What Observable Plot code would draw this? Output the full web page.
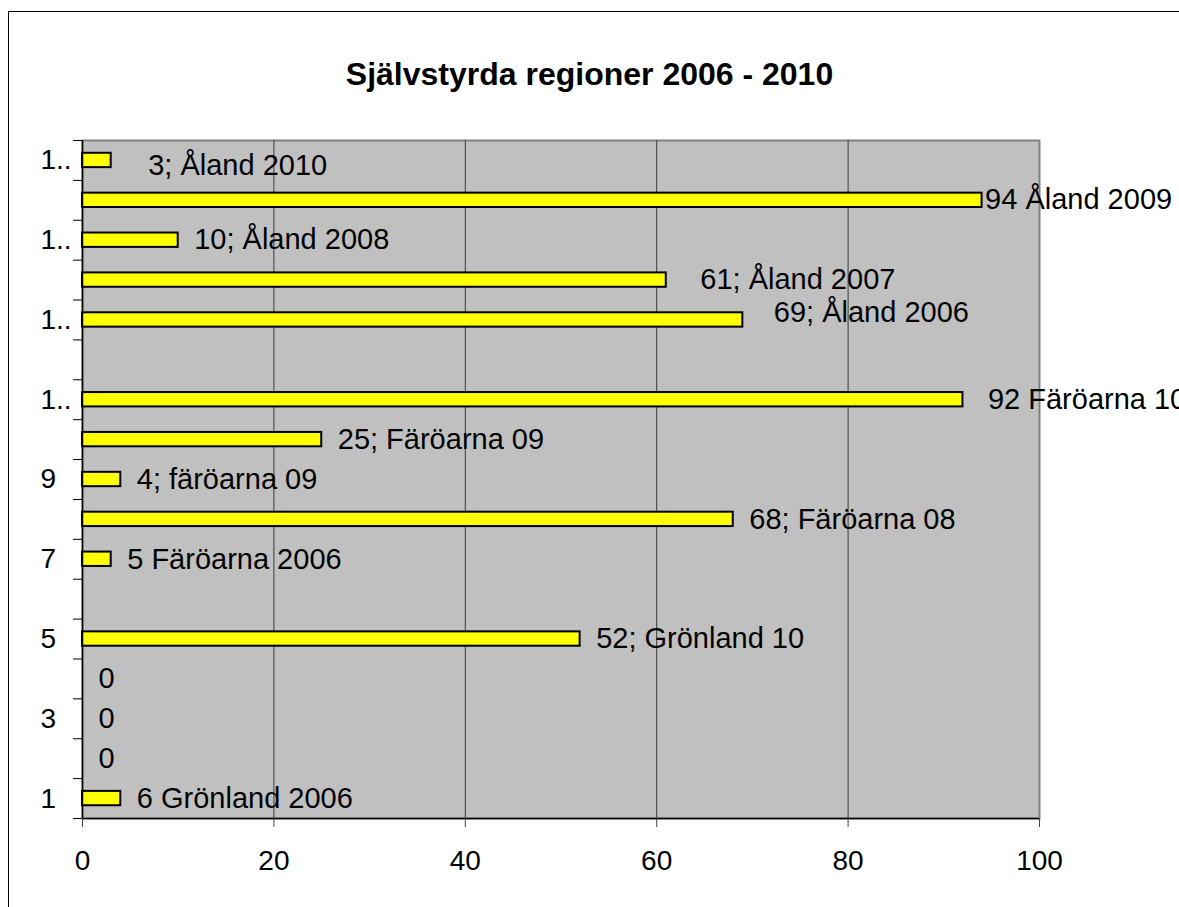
<!DOCTYPE html>
<html>
<head>
<meta charset="utf-8">
<script src="https://cdn.jsdelivr.net/npm/d3@7"></script>
<script src="https://cdn.jsdelivr.net/npm/@observablehq/plot@0.6"></script>
<style>
  body { margin: 0; background: #fff; overflow: hidden; }
  #wrap { position: relative; width: 1179px; height: 907px; overflow: hidden; }
  #frame { position: absolute; left: 8px; top: 11px; width: 1300px; height: 1000px;
           border-left: 1.5px solid #000; border-top: 1.5px solid #000; }
  #chart { position: absolute; left: 0; top: 0; }
  #title { position: absolute; left: 0; top: 58px; width: 1179px; text-align: center;
           font: bold 32px/32px "Liberation Sans", Arial, sans-serif; color: #000; }
</style>
</head>
<body>
<div id="wrap">
  <div id="frame"></div>
  <div id="chart"></div>
  <div id="title">Självstyrda regioner 2006 - 2010</div>
</div>
<script>
// ---- data ----
const categories = [1, 2, 3, 4, 5, 6, 7, 8, 9, 10, 11, 12, 13, 14, 15, 16, 17];
const values = [4, 0, 0, 0, 52, null, 3, 68, 4, 25, 92, null, 69, 61, 10, 94, 3];
const labels = [
  "6 Grönland 2006", "0", "0", "0", "52; Grönland 10", null,
  "5 Färöarna 2006", "68; Färöarna 08", "4; färöarna 09", "25; Färöarna 09",
  "92 Färöarna 10", null, "69; Åland 2006", "61; Åland 2007",
  "10; Åland 2008", "94 Åland 2009", "3; Åland 2010"
];
// manual label nudges (px), as placed in the original chart
const labelNudgeX = [0, 0, 0, 0, 0, 0, 0, 0, 0, 0, 9, 0, 15, 18, 0, -13, 21];
const labelNudgeY = [0, 0, 0, 0, 0, 0, 0, 0, 0, 0, 0, 0, -7, 0, 0, -1, 5];
const xTicks = [0, 20, 40, 60, 80, 100];
const yTickValues = [1, 3, 5, 7, 9, 11, 13, 15, 17];
const yTickLabels = ["1", "3", "5", "7", "9", "1..", "1..", "1..", "1.."];

const data = categories.map((c, i) => ({
  cat: c, value: values[i], label: labels[i], nx: labelNudgeX[i], ny: labelNudgeY[i]
}));
const boundaries = [0, ...categories].map(c => c + 0.5);
const barHalf = 0.18;
const font = '"Liberation Sans", Arial, sans-serif';

const labelMarks = data.filter(d => d.label != null).map(d =>
  Plot.text([d], {
    x: d => d.value ?? 0, y: "cat", text: "label",
    textAnchor: "start", dx: 16 + d.nx, dy: d.ny,
    fontSize: 29, fill: "#000"
  })
);

const plot = Plot.plot({
  width: 1179,
  height: 907,
  marginLeft: 82,
  marginRight: 140,
  marginTop: 140,
  marginBottom: 89,
  style: { fontFamily: font, fontSize: "28px", background: "transparent", color: "#000" },
  x: { domain: [0, 100], axis: null, label: null },
  y: { domain: [0.5, 17.5], axis: null, label: null },
  marks: [
    Plot.frame({ fill: "#c0c0c0", stroke: "#808080", strokeWidth: 2 }),
    Plot.ruleX(xTicks.filter(t => t > 0 && t < 100), { stroke: "#3a3a3a", strokeWidth: 1 }),
    Plot.rectX(data.filter(d => d.value > 0), {
      x1: 0, x2: "value",
      y1: d => d.cat - barHalf, y2: d => d.cat + barHalf,
      fill: "#ffff00", stroke: "#000", strokeWidth: 2
    }),
    Plot.ruleX([0], { stroke: "#000", strokeWidth: 1.5 }),
    Plot.ruleY([0.5], { stroke: "#000", strokeWidth: 1.5 }),
    Plot.axisX(xTicks, {
      anchor: "bottom", tickSize: 9, tickPadding: 23, stroke: "#444",
      fontSize: 28, tickFormat: d => String(d), label: null
    }),
    Plot.axisY(boundaries, {
      anchor: "left", tickSize: 9, stroke: "#000", tickFormat: () => "", label: null
    }),
    Plot.axisY(yTickValues, {
      anchor: "left", tickSize: 0, tickPadding: 42, textAnchor: "start",
      fontSize: 28, tickFormat: d => yTickLabels[yTickValues.indexOf(d)], label: null
    }),
    ...labelMarks
  ]
});
document.getElementById("chart").appendChild(plot);
</script>
</body>
</html>
